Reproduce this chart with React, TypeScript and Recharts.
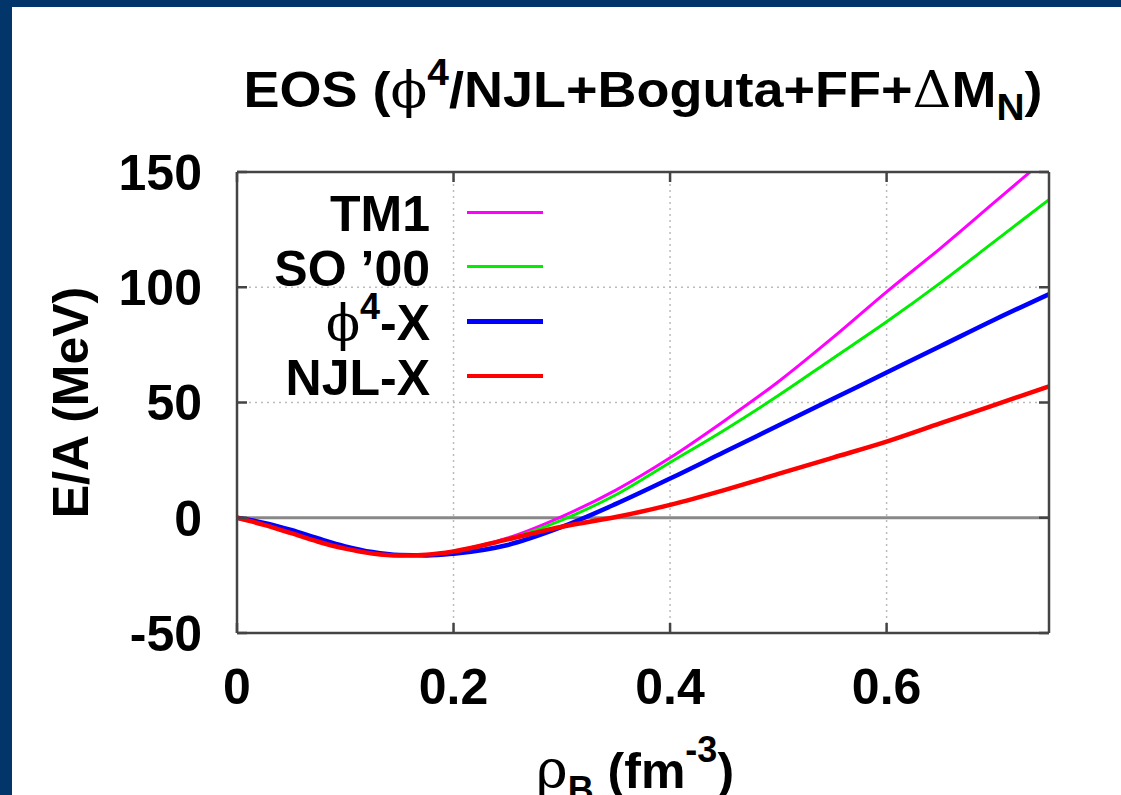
import React from 'react'
import { LineChart, Line, XAxis, YAxis, CartesianGrid, ReferenceLine, Legend } from 'recharts'

// baryon density rho_B (fm^-3)
const RHO = [0, 0.025, 0.05, 0.075, 0.1, 0.125, 0.15, 0.175, 0.2, 0.25, 0.3, 0.35, 0.4, 0.45, 0.5, 0.55, 0.6, 0.65, 0.7, 0.75]

// E/A (MeV)
const TM1 = [0, -3.0, -6.6, -10.3, -13.4, -15.5, -16.4, -16.0, -14.5, -8.8, 0.5, 12.0, 26.0, 42.0, 59.0, 78.0, 98.0, 117.0, 137.0, 157.0]
const SO00 = [0, -3.0, -6.6, -10.3, -13.4, -15.5, -16.4, -16.1, -14.7, -9.3, -1.0, 10.0, 24.0, 38.0, 53.0, 69.0, 85.0, 102.0, 120.0, 138.0]
const PHI4X = [0, -2.2, -5.3, -9.0, -12.4, -14.9, -16.2, -16.4, -15.6, -11.8, -4.0, 6.0, 17.0, 28.5, 40.0, 51.5, 63.0, 74.5, 86.0, 97.0]
const NJLX = [0, -3.1, -6.7, -10.4, -13.4, -15.5, -16.4, -16.0, -14.6, -9.4, -3.9, 0.3, 5.6, 12.0, 19.0, 26.0, 33.0, 41.0, 49.0, 57.0]

const X_TICKS = [0, 0.2, 0.4, 0.6]
const Y_TICKS = [-50, 0, 50, 100, 150]

const SERIES = [
  { key: 'tm1', name: 'TM1', color: '#ff00ff', width: 3 },
  { key: 'so00', name: 'SO \u201900', color: '#00ee00', width: 3 },
  { key: 'phi4x', name: '\u03d54-X', color: '#0000ff', width: 4.5 },
  { key: 'njlx', name: 'NJL-X', color: '#ff0000', width: 4.5 },
]

const data = RHO.map((rho, i) => ({
  rho,
  tm1: TM1[i],
  so00: SO00[i],
  phi4x: PHI4X[i],
  njlx: NJLX[i],
}))

const SANS = '"Liberation Sans", Arial, Helvetica, sans-serif'
const SERIF = '"DejaVu Serif", "Liberation Serif", serif'
const AXIS = '#444'

function richName(name: string) {
  if (name.startsWith('\u03d54')) {
    return (
      <>
        <span style={{ fontFamily: SERIF, fontWeight: 400 }}>{'\u03d5'}</span>
        <span style={{ fontSize: '0.72em', position: 'relative', top: '-0.6em' }}>4</span>
        {name.slice(2)}
      </>
    )
  }
  return name
}

function LegendBox(props: any) {
  const items = props.payload || []
  return (
    <div style={{ position: 'relative', width: 560, height: 230 }}>
      {items.map((it: any) => {
        const idx = SERIES.findIndex(s => s.name === it.value)
        const s = SERIES[idx]
        if (!s) return null
        const cy = 40 + idx * 54.7
        return (
          <React.Fragment key={s.key}>
            <div style={{
              position: 'absolute', left: 0, width: 418, top: cy - 27, height: 54,
              lineHeight: '54px', textAlign: 'right', whiteSpace: 'nowrap',
              font: `bold 50px ${SANS}`, color: '#000',
            }}>
              {richName(s.name)}
            </div>
            <div style={{
              position: 'absolute', left: 455, width: 76, top: cy - s.width / 2,
              height: s.width, background: s.color,
            }} />
          </React.Fragment>
        )
      })}
    </div>
  )
}

const XLabel = (props: any) => {
  const vb = props.viewBox || {}
  const cx = vb.x + vb.width / 2 - 8
  const y = vb.y + 155
  return (
    <text x={cx} y={y} textAnchor="middle" fill="#000" style={{ fontFamily: SANS, fontWeight: 700, fontSize: 50 }}>
      <tspan style={{ fontFamily: SERIF, fontWeight: 400, fontSize: 54 }}>{'\u03c1'}</tspan>
      <tspan dy={14} style={{ fontSize: 36 }}>B</tspan>
      <tspan dy={-14}> (fm</tspan>
      <tspan dy={-26} style={{ fontSize: 36 }}>-3</tspan>
      <tspan dy={26}>)</tspan>
    </text>
  )
}

const YLabel = (props: any) => {
  const vb = props.viewBox || {}
  const cx = vb.x - 66
  const cy = vb.y + vb.height / 2
  return (
    <text x={cx} y={cy} textAnchor="middle" dominantBaseline="central" fill="#000"
      transform={`rotate(-90, ${cx}, ${cy})`}
      style={{ fontFamily: SANS, fontWeight: 700, fontSize: 50 }}>
      E/A (MeV)
    </text>
  )
}

const tickStyle = { fill: '#000', fontSize: 50, fontWeight: 700, fontFamily: SANS }

export default function App() {
  return (
    <div style={{ position: 'fixed', left: 0, top: 0, width: 1121, height: 795, background: '#02366a', overflow: 'hidden' }}>
      <div style={{ position: 'absolute', left: 12, top: 7, width: 1109, height: 788, background: '#fff' }}>
        <div style={{
          position: 'absolute', left: 225, width: 812, top: 54, height: 60, lineHeight: '60px',
          textAlign: 'center', whiteSpace: 'nowrap', font: `bold 50px ${SANS}`, color: '#000',
          transform: 'scaleX(1.08)', transformOrigin: '50% 50%',
        }}>
          EOS (<span style={{ fontFamily: SERIF, fontWeight: 400 }}>{'\u03d5'}</span>
          <span style={{ fontSize: '0.72em', position: 'relative', top: '-0.6em' }}>4</span>
          /NJL+Boguta+FF+<span style={{ fontFamily: SERIF, fontWeight: 400 }}>{'\u0394'}</span>M
          <span style={{ fontSize: '0.72em', position: 'relative', top: '0.35em' }}>N</span>)
        </div>
        <LineChart
          width={1109}
          height={788}
          data={data}
          margin={{ top: 164, right: 71, bottom: 62, left: 125 }}
        >
          <CartesianGrid stroke="#bbb" strokeDasharray="2 4" strokeWidth={1.5} />
          <ReferenceLine y={0} stroke="#888" strokeWidth={3} />
          <XAxis
            dataKey="rho" type="number" domain={[0, 0.75]} ticks={X_TICKS} allowDataOverflow
            height={100} interval={0} tickSize={-10} tickMargin={45}
            stroke={AXIS} strokeWidth={2.5} tick={tickStyle}
            label={XLabel}
          />
          <XAxis
            xAxisId="top" orientation="top" dataKey="rho" type="number" domain={[0, 0.75]} ticks={X_TICKS}
            allowDataOverflow height={1} interval={0} tickSize={-10} tickFormatter={() => ''}
            stroke={AXIS} strokeWidth={2.5}
          />
          <YAxis
            type="number" domain={[-50, 150]} ticks={Y_TICKS} allowDataOverflow
            width={100} interval={0} tickSize={-10} tickMargin={45}
            stroke={AXIS} strokeWidth={2.5} tick={tickStyle}
            label={YLabel}
          />
          <YAxis
            yAxisId="right" orientation="right" type="number" domain={[-50, 150]} ticks={Y_TICKS}
            allowDataOverflow width={1} interval={0} tickSize={-10} tickFormatter={() => ''}
            stroke={AXIS} strokeWidth={2.5}
          />
          {SERIES.map(s => (
            <Line
              key={s.key} dataKey={s.key} name={s.name} type="monotone"
              stroke={s.color} strokeWidth={s.width} dot={false} activeDot={false}
              isAnimationActive={false}
            />
          ))}
          <Legend
            content={LegendBox} layout="horizontal" verticalAlign="middle" align="center"
            wrapperStyle={{ left: 0, top: 165, width: 560, height: 230 }}
          />
        </LineChart>
      </div>
    </div>
  )
}
